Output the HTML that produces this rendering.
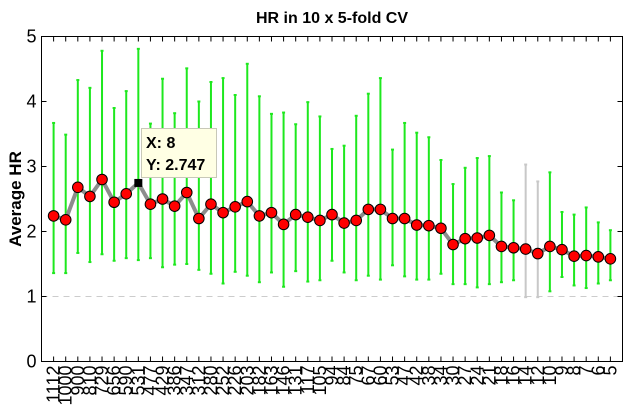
<!DOCTYPE html>
<html><head><meta charset="utf-8"><style>
body{margin:0;background:#fff;}
svg{display:block;font-family:"Liberation Sans",sans-serif;}
</style></head><body>
<svg id="chart" width="630" height="411">
<text x="332" y="23" text-anchor="middle" font-size="16" font-weight="bold">HR in 10 x 5-fold CV</text>
<text transform="translate(21,199) rotate(-90)" text-anchor="middle" font-size="17" font-weight="bold">Average HR</text>
<g id="plot"></g>
</svg>
<script>
const categories=["1112","1000","900","810","729","656","590","531","477","429","386","347","312","280","252","226","203","182","163","146","131","117","105","94","84","75","67","60","53","47","42","38","34","30","27","24","21","18","16","14","12","10","9","8","7","6","5"];
const means=[2.24,2.18,2.68,2.54,2.80,2.45,2.58,2.747,2.42,2.50,2.39,2.60,2.20,2.42,2.29,2.38,2.46,2.24,2.29,2.11,2.26,2.22,2.17,2.26,2.13,2.17,2.34,2.34,2.20,2.20,2.10,2.09,2.05,1.80,1.89,1.90,1.94,1.77,1.75,1.73,1.66,1.77,1.72,1.62,1.63,1.61,1.58];
const upper=[3.67,3.49,4.33,4.21,4.78,3.90,4.16,4.81,3.66,4.35,3.82,4.51,4.0,4.30,4.36,4.10,4.58,4.08,3.81,3.83,3.65,3.99,3.77,3.27,3.32,3.78,4.12,4.36,3.26,3.67,3.52,3.45,3.10,2.73,2.98,3.13,3.16,2.60,2.48,3.03,2.77,2.91,2.30,2.26,2.37,2.14,2.02];
const lower=[1.36,1.36,1.67,1.53,1.65,1.55,1.59,1.56,1.59,1.45,1.49,1.50,1.41,1.35,1.20,1.38,1.32,1.22,1.37,1.15,1.39,1.23,1.25,1.55,1.37,1.25,1.32,1.26,1.48,1.31,1.26,1.26,1.35,1.19,1.19,1.14,1.19,1.22,1.25,0.99,0.99,1.08,1.30,1.17,1.13,1.20,1.25];
const grayBars=[40,41];
const yTicks=[0,1,2,3,4,5];
const L=41.5,R=622.5,T=36.5,B=361.5;
const xs=i=>L+(i+1)*(R-L)/(categories.length+1);
const ys=v=>B-(v/5)*(B-T);
const NS="http://www.w3.org/2000/svg";
const g=document.getElementById('plot');
function mk(tag,attrs,parent){const e=document.createElementNS(NS,tag);for(const k in attrs)e.setAttribute(k,attrs[k]);(parent||g).appendChild(e);return e;}
const ref=mk('line',{x1:L,x2:R,y1:ys(1),y2:ys(1),stroke:'#ccc','stroke-dasharray':'6,5'});


categories.forEach((c,i)=>{
  const col=grayBars.includes(i+1)?'#c8c8c8':'#1ee81e';
  const x=xs(i);
  const eb=mk('g',{stroke:col,'stroke-width':2});
  
  
  mk('line',{x1:x,x2:x,y1:ys(upper[i]),y2:ys(lower[i])},eb);
  mk('line',{x1:x-1.5,x2:x+1.5,y1:ys(upper[i]),y2:ys(upper[i])},eb);
  mk('line',{x1:x-1.5,x2:x+1.5,y1:ys(lower[i]),y2:ys(lower[i])},eb);
});
const line=mk('polyline',{points:means.map((v,i)=>xs(i)+','+ys(v)).join(' '),fill:'none',stroke:'#8c8c8c','stroke-width':4});


means.forEach((v,i)=>{
  if(i===7){
    const s=mk('rect',{x:xs(i)-4,y:ys(v)-4,width:8,height:8,fill:'#000'});
    
    
    return;
  }
  const p=mk('circle',{cx:xs(i),cy:ys(v),r:5.3,fill:'#f00',stroke:'#000','stroke-width':1});
  
  
});
const box=mk('rect',{x:L,y:T,width:R-L,height:B-T,fill:'none',stroke:'#000','stroke-width':1});


yTicks.forEach(t=>{
  const y=ys(t);
  mk('line',{x1:L,x2:L+5,y1:y,y2:y,stroke:'#000'});
  mk('line',{x1:R,x2:R-5,y1:y,y2:y,stroke:'#000'});
  const tx=mk('text',{x:L-5,y:y+6,'text-anchor':'end','font-size':18});
  tx.textContent=t;
  
  
});
categories.forEach((c,i)=>{
  const x=xs(i);
  mk('line',{x1:x,x2:x,y1:B,y2:B-5,stroke:'#000'});
  mk('line',{x1:x,x2:x,y1:T,y2:T+5,stroke:'#000'});
  const tx=mk('text',{transform:'translate('+(x+6)+','+(B+4)+') rotate(-90)','text-anchor':'end','font-size':18});
  tx.textContent=c;
  
  
});
const tip=mk('g',{});


mk('rect',{x:141.5,y:128.5,width:75,height:49,fill:'#ffffe4',stroke:'#c8c8b8'},tip);
const t1=mk('text',{x:146,y:148,'font-size':16,'font-weight':'bold'},tip);t1.textContent='X: 8';
const t2=mk('text',{x:146,y:170,'font-size':16,'font-weight':'bold'},tip);t2.textContent='Y: 2.747';
</script>
</body></html>
